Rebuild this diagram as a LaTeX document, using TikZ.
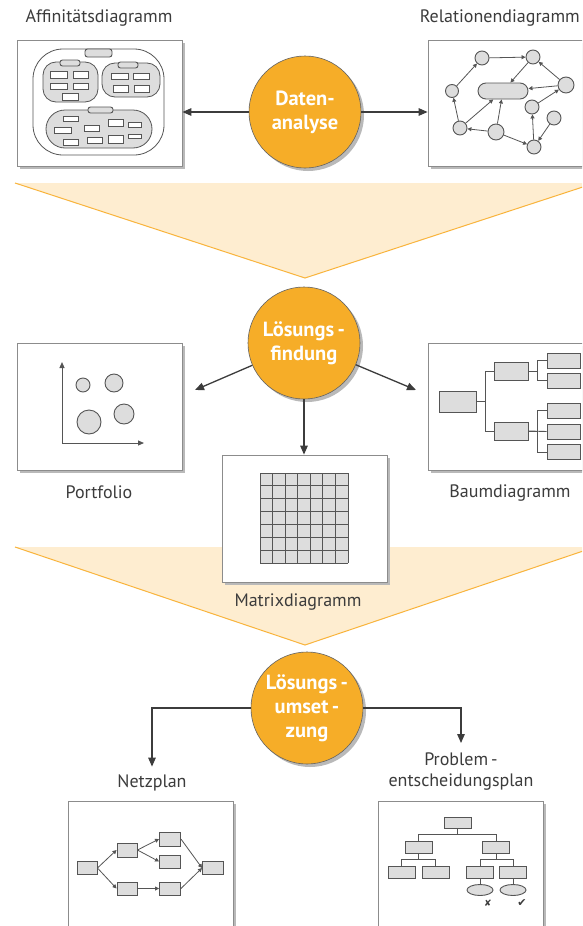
\documentclass[tikz,border=0pt]{standalone}
\usepackage{fontspec}
\setmainfont{PT Sans}
\newfontfamily\symfont{DejaVu Sans}
\usetikzlibrary{arrows.meta,shadows,calc,shapes.geometric}

\definecolor{hubfill}{RGB}{246,173,40}
\definecolor{funnelfill}{RGB}{254,237,208}
\definecolor{funneledge}{RGB}{249,180,60}
\definecolor{ink}{RGB}{60,60,60}
\definecolor{cellfill}{RGB}{221,221,221}
\definecolor{celledge}{RGB}{85,85,85}
\definecolor{framedge}{RGB}{140,140,140}
\definecolor{shade}{RGB}{185,185,185}

\tikzset{
  frame/.style={draw=framedge, line width=0.8pt, fill=white, rectangle,
    minimum width=165, minimum height=126, inner sep=0,
    drop shadow={shadow xshift=2.5pt, shadow yshift=-2.5pt, fill=shade, opacity=1}},
  hub/.style={circle, fill=hubfill, draw=ink!80, line width=0.6pt,
    minimum size=112, inner sep=0, align=center, text=white,
    font=\fontsize{20.5}{24}\selectfont\bfseries,
    drop shadow={shadow xshift=3pt, shadow yshift=-3pt, fill=shade, opacity=1}},
  conn/.style={draw=ink, line width=1.3pt, -{Triangle[length=9pt,width=7.5pt]}},
  caption/.style={font=\fontsize{18}{21}\selectfont, text=ink, align=center, inner sep=0},
  cell/.style={draw=celledge, fill=cellfill, line width=0.9pt, inner sep=0, rectangle},
  blank/.style={draw=celledge, fill=white, line width=0.8pt, inner sep=0, rectangle},
  tag/.style={cell, rounded corners=2.5pt},
  grp/.style={draw=celledge, fill=cellfill, line width=0.8pt, inner sep=0, rectangle},
  dot/.style={cell, circle},
  tiny/.style={draw=celledge, line width=0.8pt, -{Triangle[length=4pt,width=4pt]}},
  wire/.style={draw=celledge, line width=0.9pt},
}

\begin{document}
\begin{tikzpicture}[x=1pt,y=-1pt]
\clip (0,0) rectangle (582,926);
\fill[white] (0,0) rectangle (582,926);

% funnels
\fill[funnelfill] (15,183) -- (595,183) -- (305,278) -- cycle;
\draw[funneledge, line width=1pt] (15,183) -- (305,278) -- (595,183);
\fill[funnelfill] (15,547) -- (595,547) -- (305,645) -- cycle;
\draw[funneledge, line width=1pt] (15,547) -- (305,645) -- (595,547);

% ---------- Datenanalyse ----------
\node[caption] (afflbl) at (99,18) {Affinitätsdiagramm};
\node[caption, anchor=east] (rellbl) at (580,18) {Relationendiagramm};

\node[frame] (aff) at (99.5,103) {};
\node[frame] (rel) at (510.5,103) {};

% affinity diagram
\node[blank, rounded corners=30pt, minimum width=131, minimum height=106] (affall) at (98.5,102) {};
\node[grp, rounded corners=13pt, minimum width=55, minimum height=40] (g1) at (70.5,82) {};
\node[grp, rounded corners=13pt, minimum width=58, minimum height=34] (g2) at (131,80) {};
\node[grp, rounded corners=19pt, minimum width=106, minimum height=38] (g3) at (99,129) {};
\node[tag, minimum width=27, minimum height=8] (h0) at (98.5,53) {};
\node[tag, minimum width=20, minimum height=6] (h1) at (70,63) {};
\node[tag, minimum width=20, minimum height=6] (h2) at (128,65) {};
\node[tag, minimum width=25, minimum height=6] (h3) at (100.5,110) {};
\foreach \x/\y/\w/\h [count=\i] in {
  58.5/74.5/17/7, 80.5/74.5/15/7, 58.5/86/17/6, 80.5/86/15/6, 70/96.5/16/7,
  119.5/76/17/6, 141/76/16/6, 120.5/88.5/15/7, 141.5/88.5/15/7,
  70.5/118.5/15/5, 62.5/130/17/6, 91.5/128/15/6, 115.5/122.5/15/7,
  134.5/124.5/13/5, 70.5/142/15/6, 94.5/140/15/6, 115.5/139/15/8, 134.5/136/13/4}
  \node[blank, minimum width=\w, minimum height=\h] (card\i) at (\x,\y) {};

% relation diagram
\node[dot, minimum size=14] (r1) at (482,58) {};
\node[dot, minimum size=14] (r2) at (533,57) {};
\node[dot, minimum size=13] (r3) at (452,91) {};
\node[cell, rounded corners=8pt, minimum width=50, minimum height=16] (rc) at (503,91) {};
\node[dot, minimum size=16] (r4) at (566,85) {};
\node[dot, minimum size=14] (r5) at (532,107) {};
\node[dot, minimum size=14] (r6) at (460,128) {};
\node[dot, minimum size=16] (r7) at (496,132) {};
\node[dot, minimum size=14] (r8) at (554,118) {};
\node[dot, minimum size=14] (r9) at (534,147) {};
\foreach \a/\b in {r1/r2, r3/r1, r2/rc, r4/r2, r4/rc, r5/r4, r6/r3, r6/rc,
                   r7/rc, r7/r6, r7/r9, r9/r5, r8/r9}
  \draw[tiny] (\a) -- (\b);

\node[hub] (c1) at (305,112) {Daten-\\analyse};
\draw[conn] (c1.west) -- (c1.west -| aff.east);
\draw[conn] (c1.east) -- (c1.east -| rel.west);

% ---------- Lösungsfindung ----------
\node[frame, minimum height=127] (pf) at (99.5,406.5) {};
\node[frame, minimum height=127] (tree) at (510.5,406.5) {};
\node[frame, minimum height=127] (mat) at (304.5,518.5) {};

\node[caption] (pflbl) at (99,492) {Portfolio};
\node[caption] (treelbl) at (510,493) {Baumdiagramm};
\node[caption] (matlbl) at (298,602) {Matrixdiagramm};

% portfolio
\draw[wire, line width=1pt, -{Triangle[length=6pt,width=5pt]}] (62,443) -- (62,362);
\draw[wire, line width=1pt, -{Triangle[length=6pt,width=5pt]}] (62,443) -- (144,443);
\node[dot, minimum size=14] (p1) at (83,385) {};
\node[dot, minimum size=18] (p2) at (114,383) {};
\node[dot, minimum size=24] (p3) at (89,422) {};
\node[dot, minimum size=20] (p4) at (124,414) {};

% tree
\node[cell, minimum width=37, minimum height=21] (t0) at (457.5,401.5) {};
\node[cell, minimum width=34, minimum height=18] (t1) at (511,371) {};
\node[cell, minimum width=34, minimum height=18] (t2) at (511,431) {};
\node[cell, minimum width=33, minimum height=15] (t11) at (563.5,360.5) {};
\node[cell, minimum width=33, minimum height=15] (t12) at (563.5,380.5) {};
\node[cell, minimum width=33, minimum height=15] (t21) at (563.5,410.5) {};
\node[cell, minimum width=33, minimum height=15] (t22) at (563.5,431.5) {};
\node[cell, minimum width=33, minimum height=15] (t23) at (563.5,452) {};
\draw[wire] (t0.east) -- ++(9,0) |- (t1.west);
\draw[wire] (t0.east) -- ++(9,0) |- (t2.west);
\draw[wire] (t1.east) -- ++(9,0) |- (t11.west);
\draw[wire] (t1.east) -- ++(9,0) |- (t12.west);
\draw[wire] (t2.east) -- ++(9,0) |- (t21.west);
\draw[wire] (t2.east) -- (t22.west);
\draw[wire] (t2.east) -- ++(9,0) |- (t23.west);

% matrix
\fill[cellfill] (260,473) rectangle (348,563);
\foreach \i in {0,...,7} {
  \draw[wire] ($(260,473)+(\i*88/7,0)$) -- ++(0,90);
  \draw[wire] ($(260,473)+(0,\i*90/7)$) -- ++(88,0);
}

\node[hub] (c2) at (304,343) {Lösungs\,-\\findung};
\coordinate (pfTip) at (195,390);
\coordinate (treeTip) at (416,390);
\draw[conn] (c2) -- (pfTip);
\draw[conn] (c2) -- (treeTip);
\draw[conn] (c2.south) -- (c2.south |- mat.north);

% ---------- Lösungsumsetzung ----------
\node[frame] (net) at (150.5,864) {};
\node[frame] (dec) at (460.5,864) {};
\node[caption] (netlbl) at (152,783) {Netzplan};
\node[caption] (declbl) at (461,772) {Problem\,-\\entscheidungsplan};

% network plan
\node[cell, minimum width=20, minimum height=13] (na) at (87,868) {};
\node[cell, minimum width=20, minimum height=14] (nb) at (127,850) {};
\node[cell, minimum width=21, minimum height=14] (nc) at (170,839) {};
\node[cell, minimum width=21, minimum height=13] (nd) at (170,861.5) {};
\node[cell, minimum width=20, minimum height=13] (ne) at (127,888.5) {};
\node[cell, minimum width=21, minimum height=13] (nf) at (170,888.5) {};
\node[cell, minimum width=21, minimum height=13] (ng) at (213,868) {};
\draw[tiny] (na.east) -- (nb.west);
\draw[tiny] (na.east) -- (ne.west);
\draw[tiny] (nb.east) -- (nc.west);
\draw[tiny] (nb.east) -- (nd.west);
\draw[tiny] (ne.east) -- (nf.west);
\draw[tiny] (nc.east) -- (ng.west);
\draw[tiny] (nf.east) -- (ng.west);

% decision plan
\node[cell, minimum width=27, minimum height=11] (d0) at (457.5,822.5) {};
\node[cell, minimum width=27, minimum height=12] (d1) at (418.5,847) {};
\node[cell, minimum width=27, minimum height=12] (d2) at (496,847) {};
\node[cell, minimum width=27, minimum height=12] (d11) at (401.5,872) {};
\node[cell, minimum width=27, minimum height=12] (d12) at (435.5,872) {};
\node[cell, minimum width=27, minimum height=12] (d21) at (480,872) {};
\node[cell, minimum width=27, minimum height=12] (d22) at (513,872) {};
\node[cell, ellipse, minimum width=26, minimum height=11] (o1) at (480,890) {};
\node[cell, ellipse, minimum width=26, minimum height=11] (o2) at (513,890) {};
\draw[wire] (d0.south) -- ++(0,6) -| (d1.north);
\draw[wire] (d0.south) -- ++(0,6) -| (d2.north);
\draw[wire] (d1.south) -- ++(0,6) -| (d11.north);
\draw[wire] (d1.south) -- ++(0,6) -| (d12.north);
\draw[wire] (d2.south) -- ++(0,6) -| (d21.north);
\draw[wire] (d2.south) -- ++(0,6) -| (d22.north);
\draw[wire] (d21.south) -- (o1.north);
\draw[wire] (d22.south) -- (o2.north);
\node[text=ink, font=\symfont\fontsize{9}{9}\selectfont, inner sep=0] (nok) at (488,903) {✘};
\node[text=ink, font=\symfont\fontsize{11}{11}\selectfont, inner sep=0] (ok) at (522,903) {✔};

\node[hub] (c3) at (307,708) {Lösungs\,-\\umset\,-\\zung};
\draw[conn, shorten >=8pt] (c3.west) -| (netlbl.north);
\draw[conn, shorten >=10pt] (c3.east) -| (declbl.north);

\end{tikzpicture}
\end{document}
